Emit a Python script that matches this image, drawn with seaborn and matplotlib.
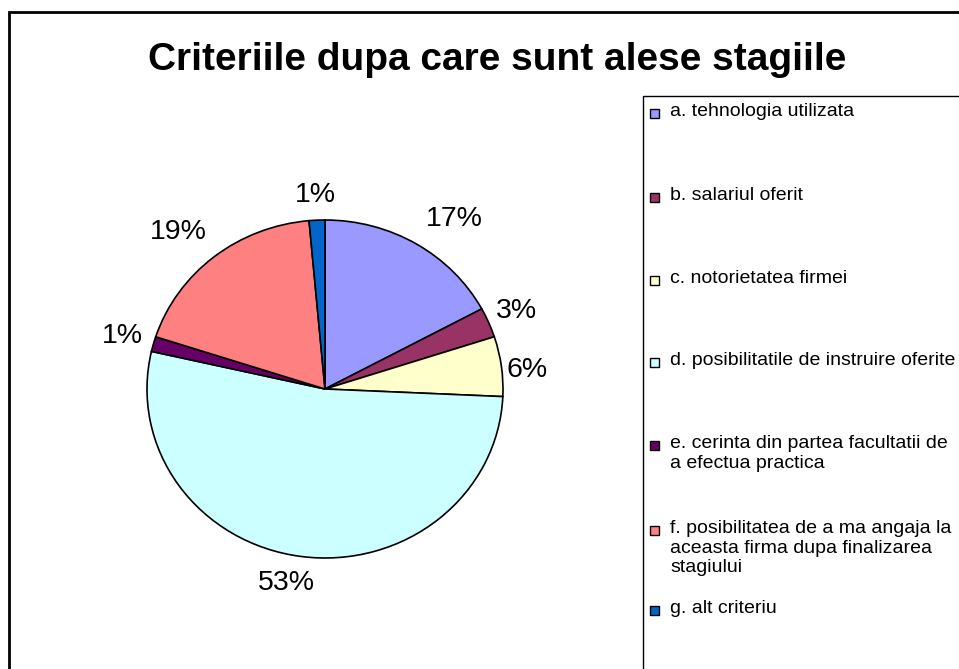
import matplotlib
matplotlib.use("Agg")
import matplotlib.pyplot as plt
from matplotlib.patches import Rectangle
import numpy as np
import seaborn as sns

# survey answers (respondent counts), Excel pie order
categories = [
    "a. tehnologia utilizata",
    "b. salariul oferit",
    "c. notorietatea firmei",
    "d. posibilitatile de instruire oferite",
    "e. cerinta din partea facultatii de\na efectua practica",
    "f. posibilitatea de a ma angaja la\naceasta firma dupa finalizarea\nstagiului",
    "g. alt criteriu",
]
counts = [12, 2, 4, 37, 1, 13, 1]
colors = ["#9999FF", "#993366", "#FFFFCC", "#CCFFFF", "#660066", "#FF8080", "#0066CC"]

W, H = 959, 669

sns.set_theme(style="white")
plt.rcParams["font.family"] = ["Liberation Sans", "DejaVu Sans"]
plt.rcParams["text.color"] = "black"

fig = plt.figure(figsize=(W / 100, H / 100), dpi=100, facecolor="white")


def fx(px):
    return px / W


def fy(py):
    return 1 - py / H


# chart area border (right/bottom run off the picture)
fig.patches.append(Rectangle((fx(9), fy(800)), 2, fy(12) - fy(800),
                             transform=fig.transFigure, fill=False,
                             edgecolor="black", linewidth=2))

fig.text(fx(497), fy(60), "Criteriile dupa care sunt alese stagiile",
         ha="center", va="center", fontsize=28, fontweight="bold", color="black")

# pie, slightly wider than tall like the Excel original
ax = fig.add_axes([fx(147), fy(558), fx(503) - fx(147), fy(220) - fy(558)])
palette = sns.color_palette(colors)
wedges, texts, autotexts = ax.pie(
    counts,
    colors=palette,
    startangle=90,
    counterclock=False,
    autopct="%1.0f%%",
    pctdistance=1.19,
    wedgeprops={"edgecolor": "black", "linewidth": 1.2},
    textprops={"fontsize": 20.5, "color": "black"},
)
# Excel pushes wide labels a little further out
label_dist = [1.24, 1.17, 1.14, 1.17, 1.18, 1.24, 1.15]
label_shift = [-5, 0, -2, -3, 0, 3, 0]  # degrees, Excel's label placement drift
for w, t, d, s in zip(wedges, autotexts, label_dist, label_shift):
    mid = np.deg2rad((w.theta1 + w.theta2) / 2 + s)
    t.set_position((d * np.cos(mid), d * np.sin(mid)))
ax.set_aspect("auto")
ax.set_xlim(-1.0, 1.0)
ax.set_ylim(-1.0, 1.0)
ax.axis("off")

# legend box
fig.patches.append(Rectangle((fx(643), fy(800)), 2, fy(96) - fy(800),
                             transform=fig.transFigure, fill=False,
                             edgecolor="black", linewidth=1))
legend_y = [113, 197, 280, 362, 445, 530, 610]
for label, color, y in zip(categories, colors, legend_y):
    fig.patches.append(Rectangle((fx(650), fy(y + 5)), fx(9), fy(0) - fy(9),
                                 transform=fig.transFigure, facecolor=color,
                                 edgecolor="black", linewidth=1))
    fig.text(fx(670), fy(y - 10), label, ha="left", va="top",
             fontsize=14, linespacing=1.2, color="black")

fig.savefig("out.png", dpi=100, facecolor="white")
